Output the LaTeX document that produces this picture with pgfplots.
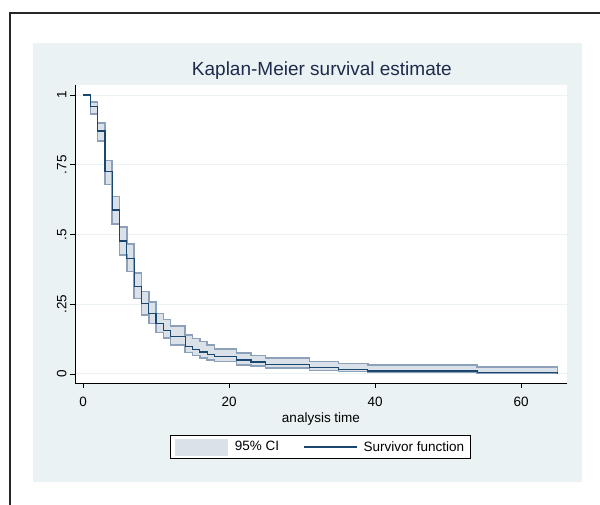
\documentclass[border=0pt]{standalone}
\usepackage{fontspec}
\setmainfont{Liberation Sans}
\usepackage{pgfplots}
\pgfplotsset{compat=1.18}
\usepackage{pgfplotstable}

\definecolor{panelbg}{RGB}{234,242,243}
\definecolor{stnavy}{RGB}{26,71,111}
\definecolor{titlecol}{RGB}{30,42,76}
\definecolor{cifill}{RGB}{218,225,233}
\definecolor{ciedge}{RGB}{140,160,185}
\definecolor{gridcol}{RGB}{234,242,243}

\pgfplotstableread{
t S
0 1.000
1 0.958
2 0.871
3 0.725
4 0.588
5 0.477
6 0.413
7 0.315
8 0.253
9 0.217
10 0.181
11 0.155
12 0.133
14 0.100
15 0.089
16 0.079
17 0.070
18 0.064
21 0.050
23 0.043
25 0.033
31 0.022
35 0.017
39 0.011
54 0.006
65 0.000
}\surv

\newcommand{\smallfont}{\fontsize{13.5bp}{15bp}\selectfont}

\begin{document}
\begin{tikzpicture}
\useasboundingbox (0,0) rectangle (600bp,-505bp);
\fill[panelbg] (33bp,-43bp) rectangle (582bp,-482bp);
\draw[line width=1.2bp, black!85] (10bp,-505bp) -- (10bp,-13bp) -- (600bp,-13bp);
\begin{axis}[
  at={(75bp,-383bp)}, anchor=south west,
  scale only axis, width=492bp, height=298bp,
  xmin=-1.1, xmax=66.3, ymin=-0.0323, ymax=1.036,
  axis x line*=bottom, axis y line*=left,
  axis line style={line width=0.8bp, black, -},
  axis background/.style={fill=white},
  /pgf/number format/assume math mode=true,
  xtick={0,20,40,60}, xticklabels={0,20,40,60},
  ytick={0,0.25,0.5,0.75,1}, yticklabels={0,.25,.5,.75,1},
  tick align=outside, major tick length=5bp,
  tick style={line width=0.8bp, black},
  ymajorgrids, grid style={line width=1bp, gridcol},
  yticklabel style={rotate=90, anchor=south, font=\smallfont},
  xticklabel style={font=\smallfont, yshift=-6bp},
  title={Kaplan-Meier survival estimate},
  title style={at={(axis description cs:0.5017,1.0125)}, anchor=base,
    font=\fontsize{19bp}{21bp}\selectfont, text=titlecol},
  xlabel={analysis time},
  xlabel style={at={(axis description cs:0.5,-0.1326)}, anchor=base, font=\smallfont},
  legend columns=2,
  legend style={at={(axis description cs:0.499,-0.2148)}, anchor=center,
    draw=black, line width=0.8bp, fill=white, font=\smallfont,
    inner xsep=4bp, inner ysep=3bp,
    /tikz/every even column/.append style={column sep=22bp}},
]
\addplot[fill=cifill, draw=ciedge, line width=1.6bp,
  legend image code/.code={\fill[cifill, draw=none] (0bp,-8.5bp) rectangle (53bp,8.5bp);
    \path[draw=none, fill=none] (0bp,0bp) -- (58bp,0bp);}]
  coordinates {
  (1,0.974) (2,0.974) (2,0.900) (3,0.900) (3,0.765) (4,0.765) (4,0.636) (5,0.636)
  (5,0.528) (6,0.528) (6,0.466) (7,0.466) (7,0.363) (8,0.363) (8,0.296) (9,0.296)
  (9,0.259) (10,0.259) (10,0.217) (11,0.217) (11,0.196) (12,0.196) (12,0.172) (14,0.172)
  (14,0.140) (15,0.140) (15,0.127) (16,0.127) (16,0.116) (17,0.116) (17,0.104) (18,0.104)
  (18,0.090) (21,0.090) (21,0.076) (23,0.076) (23,0.067) (25,0.067) (25,0.057) (31,0.057)
  (31,0.045) (35,0.045) (35,0.038) (39,0.038) (39,0.032) (54,0.032) (54,0.026) (65,0.026)
  (65,0.002) (54,0.002) (54,0.005) (39,0.005) (39,0.009) (35,0.009) (35,0.013) (31,0.013)
  (31,0.021) (25,0.021) (25,0.028) (23,0.028) (23,0.033) (21,0.033) (21,0.045) (18,0.045)
  (18,0.050) (17,0.050) (17,0.058) (16,0.058) (16,0.066) (15,0.066) (15,0.077) (14,0.077)
  (14,0.104) (12,0.104) (12,0.128) (11,0.128) (11,0.149) (10,0.149) (10,0.181) (9,0.181)
  (9,0.211) (8,0.211) (8,0.271) (7,0.271) (7,0.367) (6,0.367) (6,0.427) (5,0.427)
  (5,0.538) (4,0.538) (4,0.680) (3,0.680) (3,0.835) (2,0.835) (2,0.932) (1,0.932)
  } -- cycle;
\addlegendentry{95\% CI}
\addplot[const plot, stnavy, line width=1.2bp,
  legend image code/.code={\draw[stnavy, line width=1.2bp] (0bp,0bp) -- (53bp,0bp);
    \path[draw=none] (0bp,0bp) -- (58bp,0bp);}]
  table[x=t,y=S]{\surv};
\addlegendentry{Survivor function\hspace{4bp}}
\end{axis}
\end{tikzpicture}
\end{document}
